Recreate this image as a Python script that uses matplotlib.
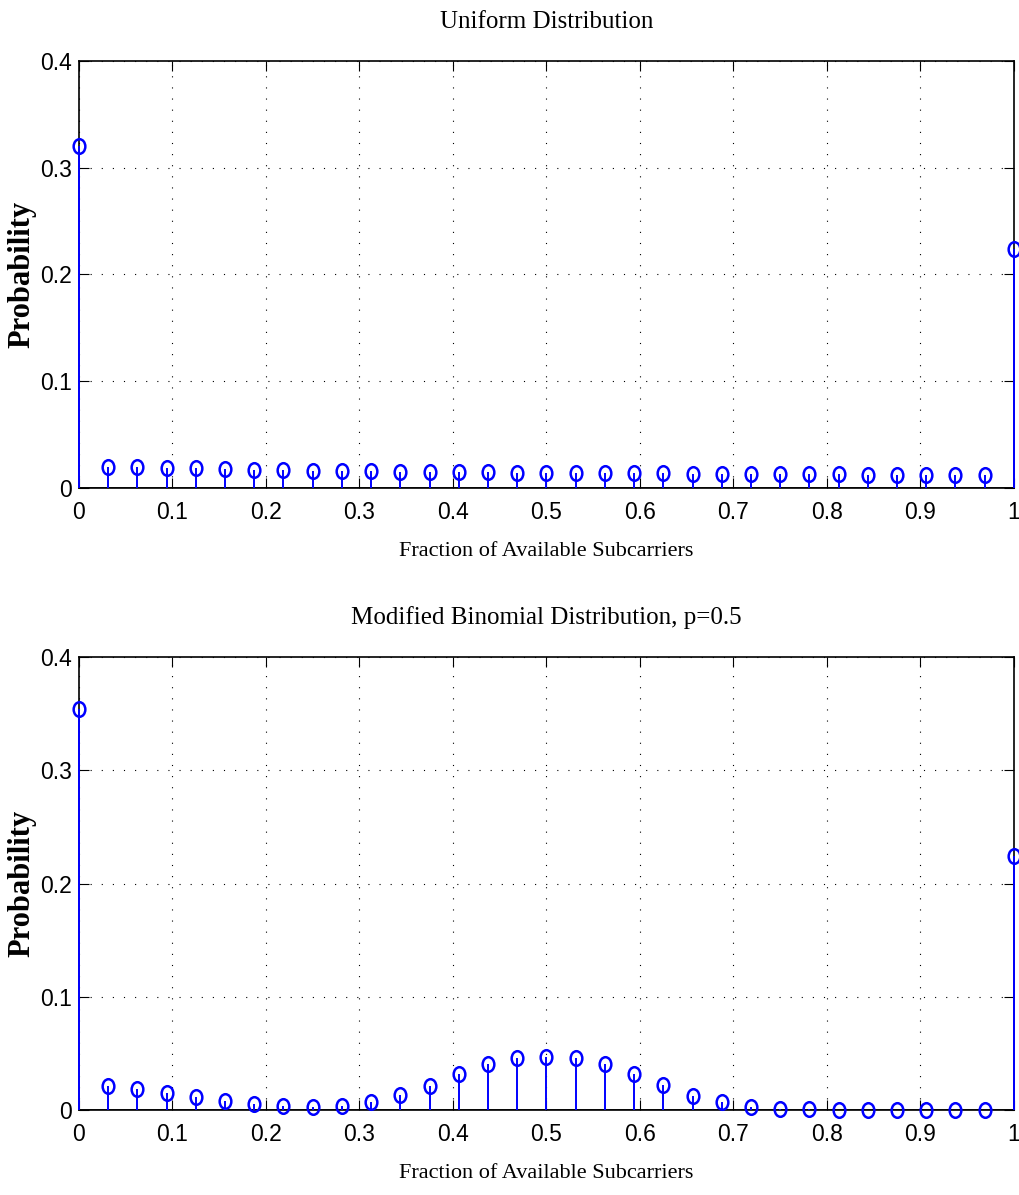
import numpy as np
import matplotlib
matplotlib.use("Agg")
import matplotlib.pyplot as plt
from matplotlib.path import Path
from matplotlib.transforms import Affine2D

# x positions: fraction of available subcarriers (0, 1/32, ..., 1)
n_sub = 32
frac = np.arange(n_sub + 1) / n_sub

# probabilities
uniform_p = [0.320,
             0.0197, 0.0196, 0.0190, 0.0184, 0.0178, 0.0172, 0.0166, 0.0162,
             0.0159, 0.0156, 0.0153, 0.0150, 0.0150, 0.0147, 0.0145, 0.0145,
             0.0144, 0.0141, 0.0140, 0.0137, 0.0134, 0.0134, 0.0131, 0.0130,
             0.0128, 0.0128, 0.0125, 0.0125, 0.0124, 0.0124, 0.0122,
             0.224]
binomial_p = [0.354,
              0.0209, 0.0185, 0.0153, 0.0115, 0.0080, 0.0050, 0.0032, 0.0027,
              0.0035, 0.0073, 0.0130, 0.0215, 0.0320, 0.0406, 0.0460, 0.0468,
              0.0462, 0.0406, 0.0320, 0.0217, 0.0127, 0.0073, 0.0030, 0.0010,
              0.0005, 0.0003, 0.0002, 0.0001, 0.0001, 0.0, 0.0,
              0.224]

titles = ["Uniform Distribution", "Modified Binomial Distribution, p=0.5"]
xticks = np.arange(0, 1.01, 0.1)
yticks = [0, 0.1, 0.2, 0.3, 0.4]

tick_font = ["Liberation Sans", "DejaVu Sans"]
serif_font = ["Liberation Serif", "DejaVu Serif"]

# slightly squeezed circle like the original
ellipse = Path.unit_circle().transformed(Affine2D().scale(0.8, 1.0))

fig = plt.figure(figsize=(10.19, 11.95), dpi=100)
boxes = [[0.0775, 0.5916, 0.9175, 0.3574], [0.0775, 0.0711, 0.9175, 0.3791]]

for box, probs, title in zip(boxes, [uniform_p, binomial_p], titles):
    ax = fig.add_axes(box)
    markerline, stemlines, baseline = ax.stem(frac, probs)
    markerline.set_marker(ellipse)
    markerline.set_markersize(10.5)
    markerline.set_markerfacecolor("none")
    markerline.set_markeredgecolor("#0000ff")
    markerline.set_markeredgewidth(1.8)
    markerline.set_clip_on(False)
    markerline.set_zorder(4)
    stemlines.set_color("#0000ff")
    stemlines.set_linewidth(1.4)
    stemlines.set_clip_on(False)
    stemlines.set_zorder(3)
    baseline.set_color("black")
    baseline.set_linewidth(1.2)

    ax.set_xlim(0, 1)
    ax.set_ylim(0, 0.4)
    ax.set_xticks(xticks)
    ax.set_xticklabels(["0"] + ["%.1f" % v for v in xticks[1:-1]] + ["1"])
    ax.set_yticks(yticks)
    ax.set_yticklabels(["0", "0.1", "0.2", "0.3", "0.4"])
    ax.tick_params(direction="in", length=7, width=0.8, top=True, right=True,
                   labelsize=16.5)
    ax.tick_params(axis="x", pad=9)
    ax.tick_params(axis="y", pad=5)
    for lab in ax.get_xticklabels() + ax.get_yticklabels():
        lab.set_family(tick_font)
    ax.grid(True, color="black", linestyle=(0, (1, 9)), linewidth=0.8)
    for sp in ax.spines.values():
        sp.set_linewidth(1.2)

    ax.set_title(title, family=serif_font, fontsize=18, pad=24)
    ax.set_xlabel("Fraction of Available Subcarriers", family=serif_font,
                  fontsize=16, labelpad=13)
    ax.set_ylabel("Probability", family=serif_font, fontsize=22,
                  fontweight="bold")
    ax.yaxis.set_label_coords(-0.046, 0.5)

fig.savefig("out.png", dpi=100)
